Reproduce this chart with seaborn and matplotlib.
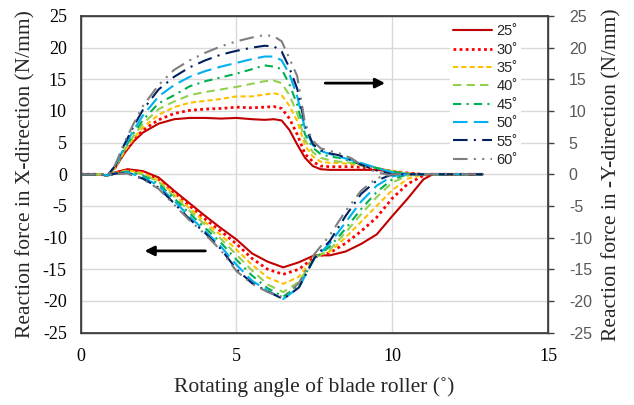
import numpy as np
import pandas as pd
import matplotlib
matplotlib.use("Agg")
import matplotlib.pyplot as plt
import seaborn as sns

# blade angles (legend)
angles = ["25˚", "30˚", "35˚", "40˚", "45˚", "50˚", "55˚", "60˚"]

# X-direction reaction force (upper curves)
x_upper = [0, 0.6, 0.85, 1.1, 1.4, 1.7, 2.0, 2.5, 3.0, 3.5, 4.0, 4.5, 5.0, 5.5, 5.9, 6.2,
           6.45, 6.7, 6.95, 7.2, 7.45, 7.7, 8.0, 8.3, 8.7, 9.0, 9.5, 10.0, 10.5, 11.0, 12.9]
fx_25 = [0, 0, -0.2, 1.0, 3.3, 5.2, 6.6, 8.0, 8.7, 8.9, 8.9, 8.8, 8.9, 8.7, 8.6, 8.7,
         8.5, 7.0, 4.7, 2.6, 1.3, 0.8, 0.7, 0.7, 0.7, 0.7, 0.7, 0.4, 0.1, 0, 0]
fx_30 = [0, 0, -0.2, 1.0, 3.5, 5.4, 7.0, 8.6, 9.6, 10.1, 10.3, 10.4, 10.6, 10.5, 10.6, 10.7,
         10.4, 8.8, 6.3, 3.2, 2.0, 1.3, 1.2, 1.2, 1.2, 1.1, 0.9, 0.5, 0.2, 0, 0]
fx_35 = [0, 0, -0.2, 1.0, 3.6, 5.7, 7.4, 9.4, 10.6, 11.3, 11.6, 11.9, 12.3, 12.3, 12.6, 12.8,
         12.5, 10.8, 8.4, 4.6, 2.8, 2.0, 1.8, 1.8, 1.6, 1.4, 1.0, 0.5, 0.1, 0, 0]
fx_40 = [0, 0, -0.2, 1.1, 3.8, 6.1, 8.0, 10.3, 11.5, 12.5, 13.0, 13.4, 13.8, 14.3, 14.7, 14.8,
         14.4, 12.5, 9.6, 5.4, 3.5, 2.6, 2.2, 2.0, 1.8, 1.5, 1.0, 0.5, 0.1, 0, 0]
fx_45 = [0, 0, -0.2, 1.1, 4.0, 6.5, 8.6, 11.2, 12.5, 13.9, 14.7, 15.3, 15.9, 16.6, 17.2, 17.0,
         16.6, 14.2, 11.0, 6.3, 4.2, 3.2, 2.8, 2.6, 2.0, 1.6, 1.0, 0.4, 0.1, 0, 0]
fx_50 = [0, 0, -0.2, 1.2, 4.3, 7.0, 9.3, 12.3, 14.1, 15.4, 16.3, 17.0, 17.6, 18.2, 18.6, 18.6,
         18.0, 15.8, 12.3, 7.2, 4.6, 3.7, 3.2, 2.8, 2.2, 1.8, 1.0, 0.3, 0, 0, 0]
fx_55 = [0, 0, -0.2, 1.3, 4.7, 7.6, 10.2, 13.4, 15.4, 16.9, 18.0, 18.9, 19.5, 20.0, 20.3, 20.2,
         19.4, 16.8, 13.5, 7.8, 4.8, 3.8, 3.3, 3.0, 2.2, 1.5, 0.6, 0, 0, 0, 0]
fx_60 = [0, 0, -0.2, 1.4, 5.0, 8.0, 10.8, 14.1, 16.5, 18.0, 19.2, 20.2, 21.0, 21.6, 22.0, 21.8,
         21.0, 18.3, 15.5, 8.0, 5.3, 4.1, 3.7, 3.3, 2.5, 1.5, 0.3, -0.2, 0, 0, 0]

# -Y-direction reaction force (lower curves)
x_lower = [0, 0.6, 0.85, 1.1, 1.5, 2.0, 2.5, 3.0, 3.5, 4.0, 4.5, 5.0, 5.5, 6.0, 6.5,
           7.0, 7.5, 8.0, 8.5, 9.0, 9.5, 10.0, 10.5, 11.0, 11.3, 12.9]
fy_25 = [0, 0, -0.2, 0.3, 0.8, 0.5, -0.5, -2.6, -4.6, -6.6, -8.5, -10.3, -12.5, -13.8, -14.7,
         -13.9, -12.8, -12.8, -12.2, -11.0, -9.5, -6.6, -3.8, -0.8, 0, 0]
fy_30 = [0, 0, -0.2, 0.2, 0.7, 0.3, -0.8, -2.9, -5.0, -7.1, -9.0, -11.0, -13.3, -15.0, -15.8,
         -15.0, -13.1, -12.4, -10.9, -9.0, -6.8, -3.8, -1.5, -0.2, 0, 0]
fy_35 = [0, 0, -0.2, 0.2, 0.6, 0.2, -1.0, -3.2, -5.4, -7.6, -9.6, -11.9, -14.3, -16.3, -17.3,
         -16.2, -13.0, -12.2, -10.0, -7.5, -5.0, -2.5, -0.7, 0, 0, 0]
fy_40 = [0, 0, -0.2, 0.2, 0.5, 0.0, -1.2, -3.5, -5.8, -8.0, -10.2, -12.7, -15.2, -17.4, -18.6,
         -17.0, -13.2, -11.9, -9.2, -6.3, -3.6, -1.3, -0.2, 0, 0, 0]
fy_45 = [0, 0, -0.2, 0.2, 0.4, -0.2, -1.5, -3.8, -6.2, -8.5, -10.8, -13.5, -16.0, -18.0, -19.3,
         -17.6, -13.3, -11.4, -8.6, -5.5, -2.8, -0.8, 0, 0, 0, 0]
fy_50 = [0, 0, -0.2, 0.1, 0.3, -0.5, -1.8, -4.2, -6.7, -9.0, -11.4, -14.3, -16.8, -18.4, -19.7,
         -17.9, -13.3, -10.9, -7.6, -4.3, -1.8, -0.3, 0, 0, 0, 0]
fy_55 = [0, 0, -0.2, 0.1, 0.2, -0.7, -2.1, -4.6, -7.1, -9.3, -11.8, -15.0, -17.2, -18.5, -19.7,
         -17.9, -13.2, -10.5, -6.6, -3.1, -1.0, 0, 0, 0, 0, 0]
fy_60 = [0, 0, -0.2, 0.1, 0.1, -0.8, -2.3, -4.8, -7.3, -9.5, -12.0, -15.3, -17.3, -18.6, -19.4,
         -17.2, -12.6, -9.6, -5.8, -2.6, -0.6, 0, 0, 0, 0, 0]

upper = [fx_25, fx_30, fx_35, fx_40, fx_45, fx_50, fx_55, fx_60]
lower = [fy_25, fy_30, fy_35, fy_40, fy_45, fy_50, fy_55, fy_60]

x_ticks = [0, 5, 10, 15]
y_ticks = [-25, -20, -15, -10, -5, 0, 5, 10, 15, 20, 25]

colors = ["#C00000", "#FF0000", "#FFC000", "#92D050", "#00B050", "#00B0F0", "#002060", "#7F7F7F"]
dash_specs = ["", (1, 1.2), (2.5, 1.5), (4, 2.5), (4, 2.5, 1, 2.5), (7, 3),
              (7, 3, 1, 3), (7, 3, 1, 3, 1, 3)]

df_up = pd.concat([pd.DataFrame({"angle": a, "x": x_upper, "F": v}) for a, v in zip(angles, upper)])
df_lo = pd.concat([pd.DataFrame({"angle": a, "x": x_lower, "F": v}) for a, v in zip(angles, lower)])

sns.set_theme(style="whitegrid")
plt.rcParams["axes.unicode_minus"] = False
serif = ["Liberation Serif", "DejaVu Serif"]
sans = ["Liberation Sans", "DejaVu Sans"]

fig = plt.figure(figsize=(6.34, 4.05), dpi=100)
ax = fig.add_axes([0.1273, 0.1788, 0.7371, 0.7817])

pal = dict(zip(angles, colors))
dsh = dict(zip(angles, dash_specs))
for d in (df_up, df_lo):
    sns.lineplot(data=d, x="x", y="F", hue="angle", style="angle", hue_order=angles,
                 style_order=angles, palette=pal, dashes=dsh, estimator=None, sort=False,
                 legend=False, lw=1.5, ax=ax)
for ln in ax.lines:
    ln.set_dash_capstyle("butt")
ax.lines[1].set_linewidth(2.0)
ax.lines[9].set_linewidth(2.0)

ax.set_xlim(0, 15)
ax.set_ylim(-25, 25)
ax.set_xticks(x_ticks, labels=[str(v) for v in x_ticks], fontfamily=serif, fontsize=13)
ax.set_yticks(y_ticks, labels=[str(v) for v in y_ticks], fontfamily=serif, fontsize=13)
ax.grid(True, color="#d9d9d9", lw=1)
for s in ax.spines.values():
    s.set_color("#404040")
    s.set_linewidth(1)
ax.tick_params(axis="both", length=0, colors="black")
ax.tick_params(axis="y", pad=10)
ax.tick_params(axis="x", pad=11)
ax.set_xlabel("Rotating angle of blade roller (˚)", family=serif, fontsize=15.5, labelpad=9)
ax.set_ylabel("Reaction force in X-direction (N/mm)", family=serif, fontsize=15.5, labelpad=5.5)

ax2 = ax.twinx()
ax2.set_ylim(-25, 25)
ax2.set_yticks(y_ticks, labels=[str(v) for v in y_ticks], fontfamily=sans, fontsize=11.5,
               color="#595959")
ax2.grid(False)
ax2.tick_params(axis="y", length=4, width=1, color="#404040", pad=11)
ax2.set_ylabel("Reaction force in -Y-direction (N/mm)", family=serif, fontsize=15.5, labelpad=7)
for s in ax2.spines.values():
    s.set_color("#404040")

leg = ax.legend(handles=ax.lines[:8], labels=angles, loc="upper left",
                bbox_to_anchor=(0.79, 0.983), frameon=True, facecolor="white",
                edgecolor="none", framealpha=1, borderpad=0.2, borderaxespad=0,
                handlelength=2.7, handletextpad=0.3, labelspacing=0.3,
                prop={"family": sans, "size": 10.5})

ax.annotate("", xy=(9.86, 14.4), xytext=(7.76, 14.4),
            arrowprops=dict(arrowstyle="-|>", color="black", lw=2, mutation_scale=14))
ax.annotate("", xy=(1.96, -12.1), xytext=(4.09, -12.1),
            arrowprops=dict(arrowstyle="-|>", color="black", lw=2, mutation_scale=14))

fig.savefig("out.png", dpi=100)
